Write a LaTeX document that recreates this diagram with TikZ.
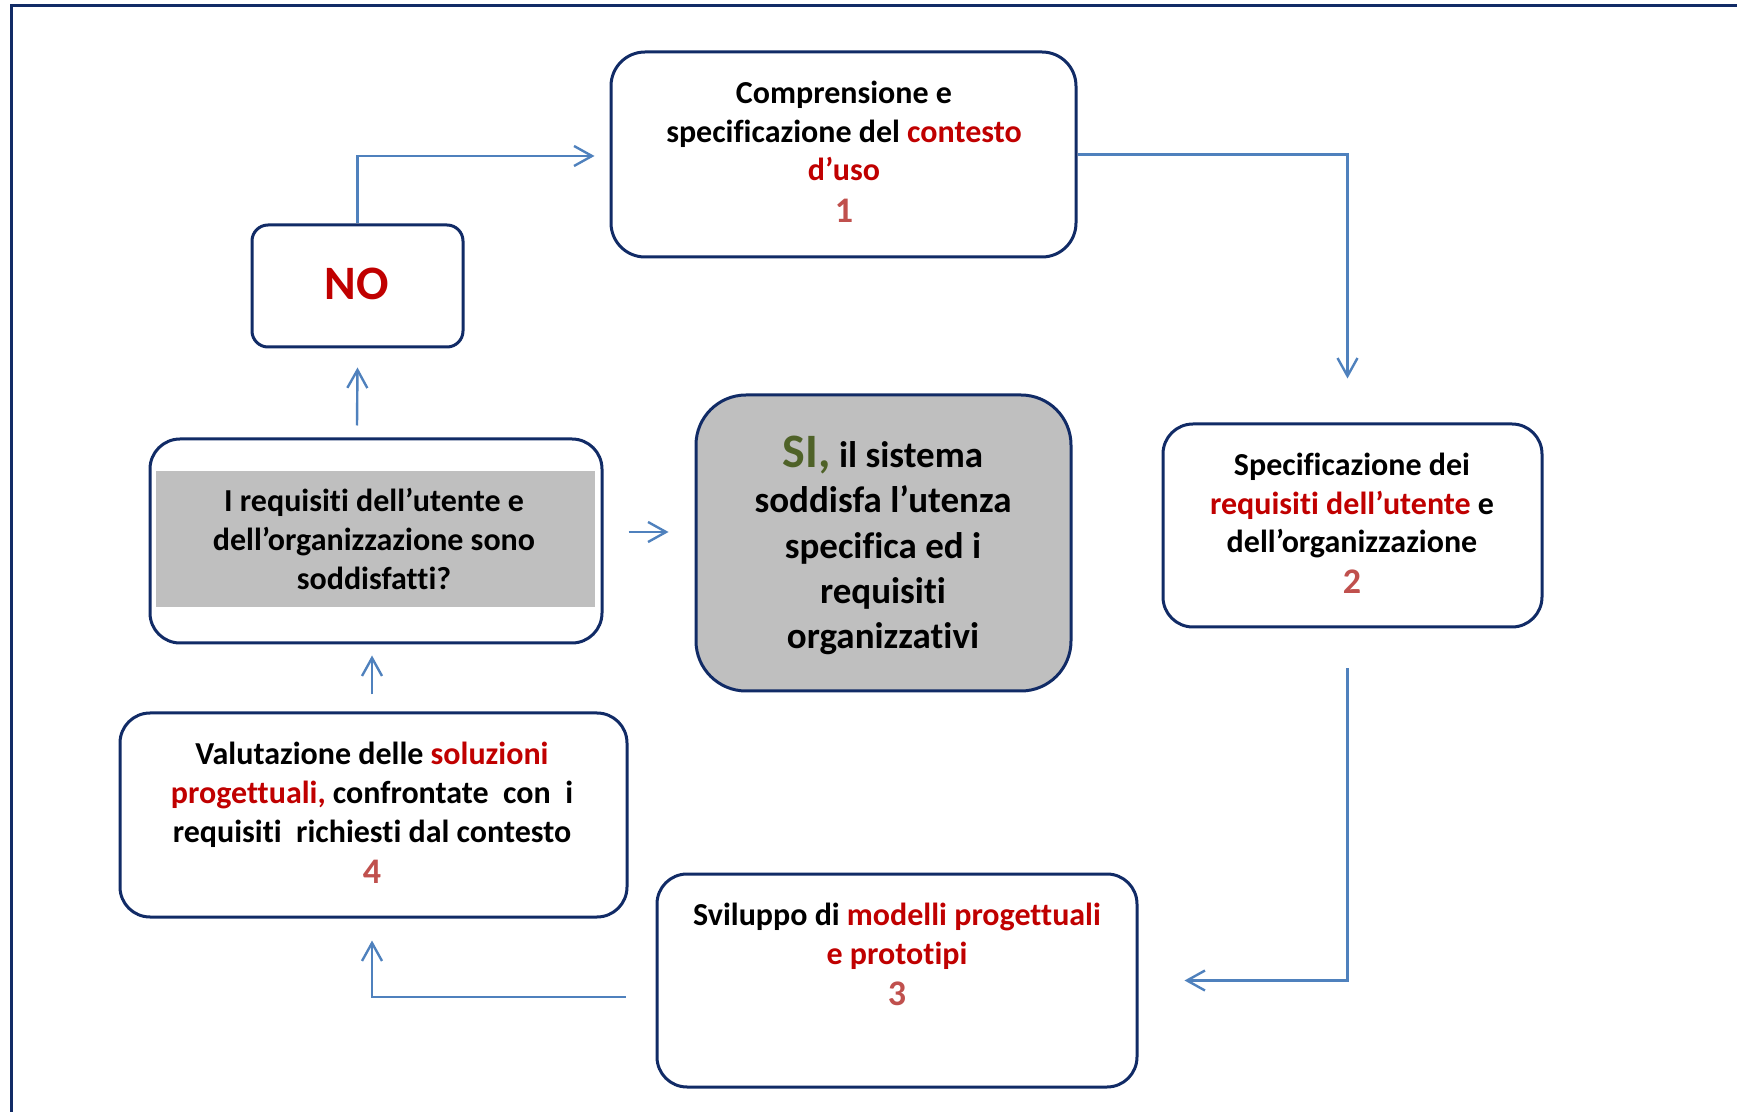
\documentclass[tikz,border=0pt]{standalone}
\usepackage{fontspec}
\setmainfont{Carlito}[Ligatures=NoCommon]
\usetikzlibrary{arrows.meta,calc}
\definecolor{navy}{HTML}{112B66}
\definecolor{linkblue}{HTML}{4F81BD}
\definecolor{hired}{HTML}{C00000}
\definecolor{numred}{HTML}{C0504D}
\definecolor{sigreen}{HTML}{4F6228}
\definecolor{panelgray}{HTML}{BFBFBF}
\newcommand\hl[1]{\textcolor{hired}{#1}}
\begin{document}
\begin{tikzpicture}[x=0.5pt,y=-0.5pt,
  box/.style={draw=navy,line width=1.5pt,fill=white,rounded corners=15pt,inner sep=0pt},
  arr/.style={draw=linkblue,line width=1.2pt,-{Straight Barb[length=9pt,width=10pt]}},
  txt/.style={align=center,inner sep=0pt,font=\bfseries\fontsize{16}{19.4}\selectfont},
  num/.style={inner sep=0pt,text=numred,font=\bfseries\fontsize{18}{20}\selectfont}]
\useasboundingbox (0,0) rectangle (1737,1112);

% outer frame
\draw[navy,line width=1.5pt] (11,1112) -- (11,6) -- (1737,6);

% boxes
\node[box,rounded corners=17pt,minimum width=232.5pt,minimum height=102.5pt] (b1) at (843.5,154.5) {};
\node[box,rounded corners=8pt,minimum width=105.5pt,minimum height=61pt] (no) at (357.5,286) {};
\node[box,minimum width=189.5pt,minimum height=101.5pt] (b2) at (1352.5,525.5) {};
\node[box,minimum width=240pt,minimum height=106.5pt] (b3) at (897,980.5) {};
\node[box,minimum width=253.5pt,minimum height=102pt] (b4) at (373.5,815) {};
\node[box,minimum width=226pt,minimum height=102pt] (q) at (376,541) {};
\node[fill=panelgray,inner sep=0pt,minimum width=219.5pt,minimum height=68pt] (qpanel) at (375.5,539) {};
\node[box,fill=panelgray,rounded corners=25pt,minimum width=187.5pt,minimum height=148pt] (si) at (883.5,543) {};

% texts
\node[txt] (t1) at (844,131) {Comprensione e\\specificazione del \hl{contesto}\\\hl{d’uso}};
\node[num] (n1) at (844,210.5) {1};
\node[inner sep=0pt,text=hired,font=\bfseries\fontsize{24}{28}\selectfont] (tno) at (357,284) {NO};
\node[txt] (t2) at (1352,505.5) {Specificazione dei\\\hl{requisiti dell’utente} e\\dell’organizzazione};
\node[num] (n2) at (1352,582) {2};
\node[txt] (t3) at (897,936.5) {Sviluppo di \hl{modelli progettuali}\\\hl{e prototipi}};
\node[num] (n3) at (897,994) {3};
\node[txt] (t4) at (372,794.5) {Valutazione delle \hl{soluzioni}\\\hl{progettuali,} confrontate\ \ con\ \ i\\requisiti\ \ richiesti dal contesto};
\node[num] (n4) at (372,872) {4};
\node[txt] (tq) at (374,539) {I requisiti dell’utente e\\dell’organizzazione sono\\soddisfatti?};
\node[txt,font=\bfseries\fontsize{18.5}{22.6}\selectfont] (tsi) at (883,545.5)
  {{\fontsize{24}{22.6}\selectfont\color{sigreen}SI,} il sistema\\soddisfa l’utenza\\specifica ed i\\requisiti\\organizzativi};

% connectors
\draw[arr] (no.north) |- ($(b1.west)+(-15,1.5)$);
\draw[arr] (b1.east) -| ($(b2.north)+(-5,-44)$);
\draw[arr] ($(b2.south)+(-5,40)$) |- ($(b3.east)+(46,0)$);
\draw[arr] ($(b3.west)+(-30,16.5)$) -| ($(b4.south)+(-1.5,22)$);
\draw[arr] ($(b4.north)+(-1.5,-17)$) -- ($(q.south)+(-4,11)$);
\draw[arr] ($(q.north)+(-19,-12)$) -- ($(no.south)+(0,19)$);
\draw[arr] ($(q.east)+(25,-9)$) -- ($(si.west)+(-26,-11)$);
\end{tikzpicture}
\end{document}
